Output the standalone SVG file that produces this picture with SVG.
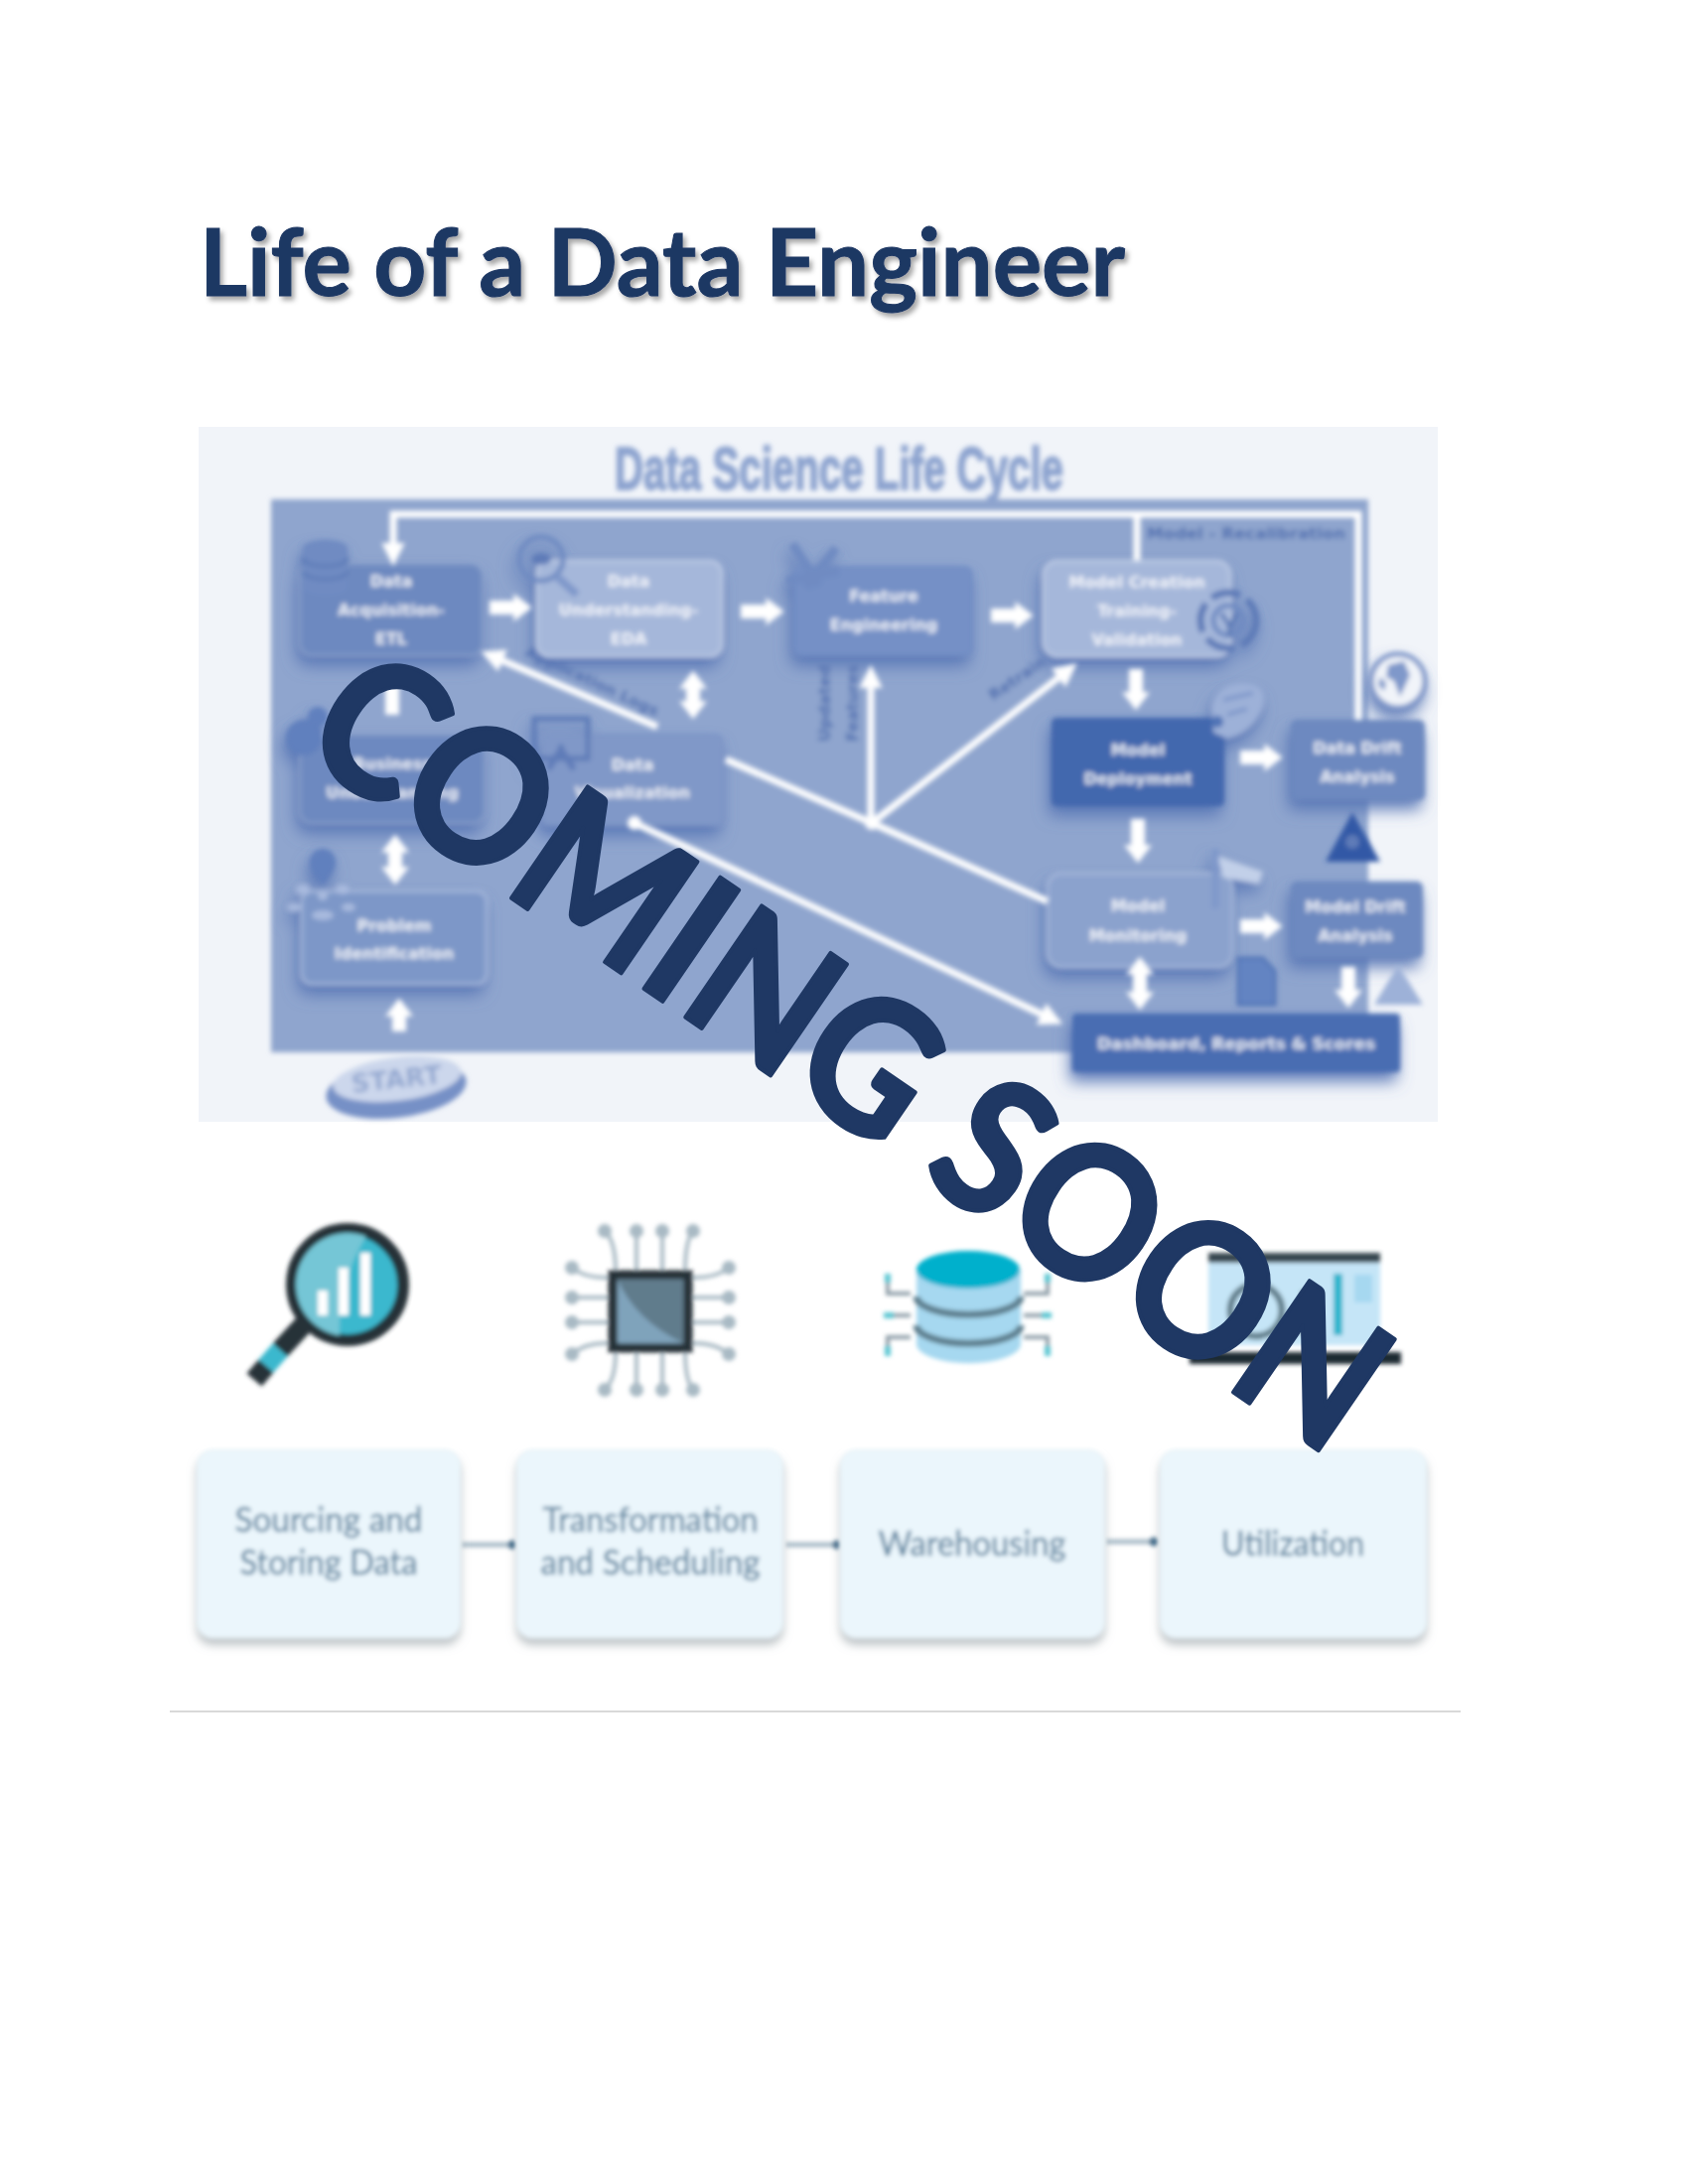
<svg xmlns="http://www.w3.org/2000/svg" width="1700" height="2200" viewBox="0 0 1700 2200">
<style>
.nt{font-family:"DejaVu Sans","Liberation Sans",sans-serif;font-weight:700;font-size:16px;fill:#fff;fill-opacity:.85;text-anchor:middle}
.lt{font-family:Lato,"Open Sans",sans-serif;font-size:35px;fill:#668aa4;text-anchor:middle;stroke:#668aa4;stroke-width:.5}
.ic{fill:#6f8bc2}
.block{stroke:#fff;stroke-width:14;fill:none}
.thin{stroke:#fff;stroke-width:7;fill:none}
.lab{font-family:"DejaVu Sans","Liberation Sans",sans-serif;font-weight:700;font-size:15px;fill:#4f6fb0}
.med{fill:#6d89c0;stroke:#8fa5ce;stroke-width:2}
.lgt{fill:#a5b7da;stroke:#c3d0e8;stroke-width:2.5}
.pal{fill:#8ba2cd;stroke:#a9bbdd;stroke-width:2.5}
.drk{fill:#4268ae}
.pin{stroke:#a9bac4;stroke-width:4;fill:none}
.pind{fill:#a9bac4}
</style>
<defs>
<filter id="b3" filterUnits="userSpaceOnUse" x="0" y="0" width="1700" height="2200"><feGaussianBlur stdDeviation="2.6"/></filter>
<filter id="b2" filterUnits="userSpaceOnUse" x="0" y="0" width="1700" height="2200"><feGaussianBlur stdDeviation="2"/></filter>
<filter id="node" filterUnits="userSpaceOnUse" x="0" y="0" width="1700" height="2200">
<feGaussianBlur in="SourceAlpha" stdDeviation="8" result="a"/><feOffset in="a" dx="-3" dy="10" result="o"/><feFlood flood-color="#5674b4" flood-opacity=".9"/><feComposite in2="o" operator="in" result="s"/>
<feGaussianBlur in="SourceGraphic" stdDeviation="2.6" result="g"/><feMerge><feMergeNode in="s"/><feMergeNode in="g"/></feMerge>
</filter>
<filter id="card" filterUnits="userSpaceOnUse" x="0" y="0" width="1700" height="2200">
<feGaussianBlur in="SourceAlpha" stdDeviation="5" result="a"/><feOffset in="a" dy="7" result="o"/><feFlood flood-color="#9aa3a8" flood-opacity=".65"/><feComposite in2="o" operator="in" result="s"/>
<feGaussianBlur in="SourceGraphic" stdDeviation="2" result="g"/><feMerge><feMergeNode in="s"/><feMergeNode in="g"/></feMerge>
</filter>
<filter id="ts" filterUnits="userSpaceOnUse" x="0" y="0" width="1700" height="2200">
<feGaussianBlur in="SourceAlpha" stdDeviation="2.5" result="a"/><feOffset in="a" dx="3" dy="4" result="o"/><feFlood flood-color="#000" flood-opacity=".35"/><feComposite in2="o" operator="in" result="s"/>
<feMerge><feMergeNode in="s"/><feMergeNode in="SourceGraphic"/></feMerge>
</filter>
<marker id="ha" markerWidth="1.3" markerHeight="2" refX="0.05" refY="1" orient="auto"><path d="M0 0L1.3 1L0 2Z" fill="#fff"/></marker>
<marker id="hs" markerWidth="1.3" markerHeight="2" refX="1.25" refY="1" orient="auto"><path d="M1.3 0L0 1L1.3 2Z" fill="#fff"/></marker>
<marker id="ta" markerWidth="3.4" markerHeight="3.4" refX="0.2" refY="1.7" orient="auto"><path d="M0 0L3.4 1.7L0 3.4Z" fill="#fff"/></marker>
<clipPath id="lens"><circle cx="350" cy="1294" r="52"/></clipPath>
</defs>
<rect width="1700" height="2200" fill="#fff"/>

<g id="title"><text x="201" y="298" font-family="Lato,'Open Sans',sans-serif" font-weight="700" font-size="94" fill="#1f3864" stroke="#1f3864" stroke-width="1" textLength="932" lengthAdjust="spacingAndGlyphs" filter="url(#ts)">Life of a Data Engineer</text></g>

<rect id="panel" x="200" y="430" width="1248" height="700" fill="#f1f4f9"/>
<g id="panel-frame" filter="url(#b3)">
<rect x="273" y="503" width="1105" height="557" fill="#8fa5ce"/>
<text x="619" y="493" font-family="'Liberation Sans',sans-serif" font-weight="700" font-size="62" fill="#8ca3cf" stroke="#8ca3cf" stroke-width="2" textLength="452" lengthAdjust="spacingAndGlyphs">Data Science Life Cycle</text>
<text x="1155" y="543" class="lab" textLength="200" lengthAdjust="spacingAndGlyphs">Model - Recalibration</text>
<text class="lab" transform="translate(528,660) rotate(25)" textLength="146" lengthAdjust="spacingAndGlyphs">Application Logs</text>
<text class="lab" transform="translate(1000,706) rotate(-34)" textLength="66" lengthAdjust="spacingAndGlyphs">Retrain</text>
<text class="lab" transform="translate(836,747) rotate(-90)" textLength="78" lengthAdjust="spacingAndGlyphs">Updated</text>
<text class="lab" transform="translate(864,747) rotate(-90)" textLength="78" lengthAdjust="spacingAndGlyphs">Features</text>
</g>

<g id="node-acquisition" filter="url(#node)"><rect class="med" x="302" y="568" width="184" height="92" rx="12"/>
<path class="ic" d="M305 552a22 8 0 0 1 45 0v40a22 8 0 0 1-45 0z"/><path d="M305 562a22 8 0 0 0 45 0M305 575a22 8 0 0 0 45 0" stroke="#5a79b6" stroke-width="3" fill="none"/>
<text class="nt" x="394" y="591">Data</text><text class="nt" x="394" y="620">Acquisition-</text><text class="nt" x="394" y="649">ETL</text></g>

<g id="node-eda" filter="url(#node)"><rect class="lgt" x="541" y="565" width="186" height="96" rx="12"/>
<circle cx="545" cy="563" r="22" fill="none" stroke="#6f8bc2" stroke-width="5"/><path d="M560 580L581 599" stroke="#7f98ca" stroke-width="8"/><ellipse cx="545" cy="563" rx="10" ry="6" fill="#5f7cb8"/>
<text class="nt" x="633" y="591">Data</text><text class="nt" x="633" y="620">Understanding-</text><text class="nt" x="633" y="649">EDA</text></g>

<g id="node-feature" filter="url(#node)"><rect x="799" y="570" width="181" height="91" rx="8" fill="#7490c6"/>
<path d="M798 548L825 590M842 552L812 592M792 585L845 575" stroke="#6f8bc2" stroke-width="9" fill="none"/>
<text class="nt" x="890" y="606">Feature</text><text class="nt" x="890" y="635">Engineering</text></g>

<g id="node-creation" filter="url(#node)"><rect class="lgt" x="1051" y="565" width="188" height="96" rx="14"/>
<circle cx="1237" cy="625" r="28" fill="none" stroke="#5f7cb8" stroke-width="7" stroke-dasharray="30 8"/><circle cx="1237" cy="625" r="15" fill="none" stroke="#6f8bc2" stroke-width="5"/><path d="M1230 618L1238 630L1246 618M1238 630V642" stroke="#5a79b6" stroke-width="4" fill="none"/>
<text class="nt" x="1145" y="592">Model Creation</text><text class="nt" x="1145" y="621">Training-</text><text class="nt" x="1145" y="650">Validation</text></g>

<g id="node-deployment" filter="url(#node)"><rect class="drk" x="1059" y="723" width="174" height="89" rx="5"/>
<path d="M1220 712Q1225 690 1250 688Q1278 688 1272 712Q1262 738 1236 744L1222 738Z" fill="#9db1d8"/><path d="M1232 705L1262 698M1236 720L1256 714" stroke="#7f98ca" stroke-width="4"/><circle cx="1226" cy="727" r="6" fill="#4f73b6"/>
<text class="nt" x="1146" y="761">Model</text><text class="nt" x="1146" y="790">Deployment</text></g>

<g id="node-datadrift" filter="url(#node)"><rect class="med" x="1300" y="725" width="135" height="81" rx="6" style="stroke:none"/>
<circle cx="1408" cy="686" r="27" fill="#f1f4f9" stroke="#7f98ca" stroke-width="5"/><path d="M1398 670l16-4 6 14-10 22-6-16-8-4zM1390 682l6 6-2 8-6-6z" fill="#7f98ca"/>
<text class="nt" x="1367" y="759">Data Drift</text><text class="nt" x="1367" y="788">Analysis</text></g>

<g id="node-monitoring" filter="url(#node)"><rect class="pal" x="1055" y="880" width="186" height="94" rx="14"/>
<path d="M1226 862L1272 878L1268 890L1232 884Z" fill="#c2d0e9"/><path d="M1224 855V915" stroke="#7f98ca" stroke-width="7"/>
<text class="nt" x="1146" y="918">Model</text><text class="nt" x="1146" y="948">Monitoring</text></g>

<g id="node-modeldrift" filter="url(#node)"><rect class="med" x="1300" y="888" width="133" height="77" rx="6" style="stroke:none"/>
<text class="nt" x="1365" y="919">Model Drift</text><text class="nt" x="1365" y="948">Analysis</text></g>

<g id="node-dashboard" filter="url(#node)"><rect x="1080" y="1021" width="330" height="59" rx="4" fill="#4a6db2"/>
<text class="nt" x="1245" y="1057" textLength="280" lengthAdjust="spacingAndGlyphs">Dashboard, Reports &amp; Scores</text></g>

<g id="node-business" filter="url(#node)"><rect class="med" x="302" y="740" width="186" height="89" rx="12"/>
<circle cx="306" cy="743" r="18" fill="#6080be"/><circle cx="320" cy="722" r="10" fill="#6080be"/>
<text class="nt" x="395" y="775">Business</text><text class="nt" x="395" y="804">Understanding</text></g>

<g id="node-visualization" filter="url(#node)"><rect x="545" y="739" width="184" height="93" rx="8" fill="#8098c8"/>
<rect x="538" y="724" width="54" height="40" fill="none" stroke="#5f7cb8" stroke-width="5"/><path d="M552 775L565 755L578 775M565 764V750" stroke="#5f7cb8" stroke-width="6" fill="none"/>
<text class="nt" x="637" y="776">Data</text><text class="nt" x="637" y="804">Visualization</text></g>

<g id="node-problem" filter="url(#node)"><rect class="pal" x="304" y="898" width="186" height="93" rx="10" style="fill:#7d97c8"/>
<path d="M325 855a13 13 0 0 1 13 14q0 8-13 22q-13-14-13-22a13 13 0 0 1 13-14z" fill="#6080be"/>
<g fill="#a8bade"><ellipse cx="305" cy="896" rx="7" ry="5"/><ellipse cx="345" cy="896" rx="7" ry="5"/><circle cx="325" cy="902" r="5"/><ellipse cx="296" cy="914" rx="7" ry="4"/><ellipse cx="351" cy="914" rx="7" ry="4"/><ellipse cx="325" cy="922" rx="11" ry="5"/></g>
<text class="nt" x="397" y="938">Problem</text><text class="nt" x="397" y="966">Identification</text></g>

<g id="node-start" filter="url(#b3)"><ellipse cx="399" cy="1097" rx="71" ry="29" transform="rotate(-7 399 1097)" fill="#7690c6"/><ellipse cx="400" cy="1087" rx="65" ry="22" transform="rotate(-7 400 1087)" fill="#ccd7ec"/>
<text x="399" y="1096" text-anchor="middle" font-family="'DejaVu Sans',sans-serif" font-weight="700" font-size="26" fill="#93a7d0" transform="rotate(-6 399 1086)">START</text></g>

<g id="icons-panel" filter="url(#b3)">
<path d="M1362 818L1390 868H1335Z" fill="#3359a6"/><circle cx="1362" cy="848" r="7" fill="#5f7cb8"/>
<path d="M1247 965H1272L1284 978V1012H1247Z" fill="#6484c2" stroke="#4f73b6" stroke-width="3"/>
<path d="M1408 972L1433 1012H1384Z" fill="#9db1d8"/>
</g>

<g id="connectors">
<g filter="url(#b3)">
<path class="thin" d="M1368 725V518H396V548" marker-end="url(#ta)"/>
<path class="thin" d="M1145 518V565"/>
<path class="thin" d="M662 732L505 665" marker-end="url(#ta)"/>
<path class="thin" d="M731 765L878 829L1055 908"/>
<path class="thin" d="M877 829V692" marker-end="url(#ta)"/>
<path class="thin" d="M878 829L1067 682" marker-end="url(#ta)"/>
<path class="thin" d="M639 829L1050 1022" marker-end="url(#ta)"/>
<circle cx="639" cy="829" r="7" fill="#fff"/><circle cx="878" cy="829" r="7" fill="#fff"/>
<path class="block" d="M493 612H518" marker-end="url(#ha)"/>
<path class="block" d="M746 616H772" marker-end="url(#ha)"/>
<path class="block" d="M998 620H1023" marker-end="url(#ha)"/>
<path class="block" d="M1249 763H1274" marker-end="url(#ha)"/>
<path class="block" d="M1249 933H1274" marker-end="url(#ha)"/>
<path class="block" d="M1144 674V698" marker-end="url(#ha)"/>
<path class="block" d="M1146 825V852" marker-end="url(#ha)"/>
<path class="block" d="M1358 974V998" marker-end="url(#ha)"/>
<path class="block" d="M402 1039V1023" marker-end="url(#ha)"/>
<path class="block" d="M395 720V690" marker-end="url(#ha)"/>
<path class="block" d="M698 693V707" marker-start="url(#hs)" marker-end="url(#ha)"/>
<path class="block" d="M398 858V874" marker-start="url(#hs)" marker-end="url(#ha)"/>
<path class="block" d="M1148 981V1000" marker-start="url(#hs)" marker-end="url(#ha)"/>
</g>
<g filter="url(#b2)">
<path d="M464 1556H514M791 1556H841M1113 1553H1160" stroke="#a9bcc8" stroke-width="5" fill="none"/>
<circle cx="516" cy="1556" r="4.5" fill="#3f6a8a"/><circle cx="843" cy="1556" r="4.5" fill="#3f6a8a"/><circle cx="1162" cy="1553" r="4.5" fill="#3f6a8a"/>
</g>
</g>

<g id="icon-magnifier" filter="url(#b2)">
<circle cx="350" cy="1294" r="56" fill="#3bb8ce" stroke="#263238" stroke-width="12"/>
<path clip-path="url(#lens)" d="M298 1240H372Q340 1290 342 1346H298Z" fill="#74c6d6"/>
<path d="M306 1334L282 1360" stroke="#263238" stroke-width="20"/><path d="M282 1360L268 1376" stroke="#3bb8ce" stroke-width="20"/><path d="M268 1376L256 1390" stroke="#263238" stroke-width="20"/>
<path d="M325 1300V1325M346 1277V1325M368 1262V1325" stroke="#fff" stroke-width="10"/>
</g>

<g id="icon-chip" filter="url(#b2)">
<path class="pin" d="M609 1240Q620 1250 620 1280M641 1240V1280M667 1240V1280M698 1240Q690 1250 690 1280M609 1400Q620 1390 620 1362M641 1400V1362M667 1400V1362M698 1400Q690 1390 690 1362M576 1277Q590 1288 613 1287M576 1307H613M576 1332H613M576 1364Q590 1352 613 1353M734 1277Q720 1288 696 1287M734 1307H696M734 1332H696M734 1364Q720 1352 696 1353"/>
<g class="pind"><circle cx="609" cy="1240" r="7"/><circle cx="641" cy="1240" r="7"/><circle cx="667" cy="1240" r="7"/><circle cx="698" cy="1240" r="7"/><circle cx="609" cy="1400" r="7"/><circle cx="641" cy="1400" r="7"/><circle cx="667" cy="1400" r="7"/><circle cx="698" cy="1400" r="7"/><circle cx="576" cy="1277" r="7"/><circle cx="576" cy="1307" r="7"/><circle cx="576" cy="1332" r="7"/><circle cx="576" cy="1364" r="7"/><circle cx="734" cy="1277" r="7"/><circle cx="734" cy="1307" r="7"/><circle cx="734" cy="1332" r="7"/><circle cx="734" cy="1364" r="7"/></g>
<rect x="617" y="1284" width="76" height="74" fill="#617c8c" stroke="#263238" stroke-width="9"/>
<path d="M622 1289Q640 1330 688 1353H622Z" fill="#7fa3bb"/>
</g>

<g id="icon-database" filter="url(#b2)">
<path d="M923 1279V1354A52 19 0 0 0 1028 1354V1279Z" fill="#a6d8f0"/>
<path d="M923 1306A52 18 0 0 0 1028 1306M923 1335A52 18 0 0 0 1028 1335" stroke="#5f8090" stroke-width="7" fill="none"/>
<ellipse cx="975" cy="1279" rx="52" ry="19" fill="#05b0cc"/>
<path d="M894 1288V1303H917M1055 1288V1303H1031M894 1325H917M1055 1325H1031M894 1360V1347H917M1055 1360V1347H1031" stroke="#8e9ea8" stroke-width="4" fill="none"/>
<path d="M894 1283V1292M1055 1283V1292M890 1325H900M1049 1325H1059M894 1356V1366M1055 1356V1366" stroke="#5cc6d2" stroke-width="6"/>
</g>

<g id="icon-laptop" filter="url(#b2)">
<rect x="1217" y="1270" width="173" height="85" fill="#c5e5f7"/><rect x="1217" y="1262" width="173" height="10" fill="#37474f"/>
<rect x="1198" y="1362" width="213" height="12" fill="#1e2a30"/>
<circle cx="1265" cy="1320" r="26" fill="none" stroke="#63808e" stroke-width="7"/>
<rect x="1310" y="1300" width="12" height="45" fill="#37474f"/><rect x="1343" y="1283" width="9" height="62" fill="#2bb5cd"/><rect x="1364" y="1284" width="18" height="28" fill="#a6d8f0"/>
</g>

<g id="node-sourcing" filter="url(#card)"><rect x="198" y="1460" width="266" height="190" rx="16" fill="#ebf6fc"/><text class="lt" x="331" y="1543" textLength="189" lengthAdjust="spacingAndGlyphs">Sourcing and</text><text class="lt" x="331" y="1586" textLength="179" lengthAdjust="spacingAndGlyphs">Storing Data</text></g>
<g id="node-transformation" filter="url(#card)"><rect x="520" y="1460" width="269" height="190" rx="16" fill="#ebf6fc"/><text class="lt" x="655" y="1543" textLength="217" lengthAdjust="spacingAndGlyphs">Transformation</text><text class="lt" x="655" y="1586" textLength="221" lengthAdjust="spacingAndGlyphs">and Scheduling</text></g>
<g id="node-warehousing" filter="url(#card)"><rect x="846" y="1460" width="267" height="190" rx="16" fill="#ebf6fc"/><text class="lt" x="979" y="1567" textLength="189" lengthAdjust="spacingAndGlyphs">Warehousing</text></g>
<g id="node-utilization" filter="url(#card)"><rect x="1168" y="1460" width="269" height="190" rx="16" fill="#ebf6fc"/><text class="lt" x="1302" y="1567" textLength="144" lengthAdjust="spacingAndGlyphs">Utilization</text></g>

<path id="rule" d="M171 1724H1471" stroke="#d9d9d9" stroke-width="2"/>

<text id="coming-soon" transform="translate(298,756) rotate(34.4)" font-family="Lato,'Open Sans',sans-serif" font-weight="700" font-size="188" fill="#1f3864" stroke="#1f3864" stroke-width="4" stroke-linejoin="round" textLength="1262" lengthAdjust="spacingAndGlyphs">COMING SOON</text>
</svg>
